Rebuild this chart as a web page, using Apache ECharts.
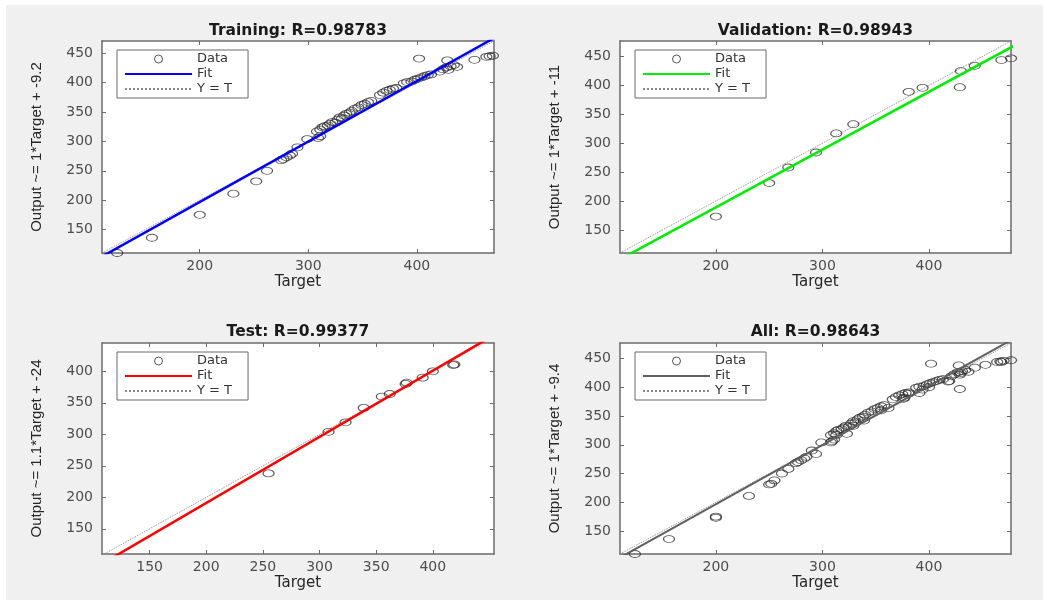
<!DOCTYPE html>
<html>
<head>
<meta charset="utf-8">
<script src="https://cdn.jsdelivr.net/npm/echarts@6/dist/echarts.min.js"></script>
<style>
html,body{margin:0;padding:0;background:#fff;}
#chart{width:1043px;height:600px;}
</style>
</head>
<body>
<div id="chart"></div>
<script>
// ---------------- data (target, output) ----------------
const trainingPoints = [
  [124,110],[156,136],[200,175],[231,211],[252,232],[262,250],
  [275,268],[277,270],[280,273],[283,276],[285,279],
  [290,290],[299,304],[309,306],[311,309],
  [308,317],[311,320],[313,324],[315,326],[318,327],[320,330],[322,333],[325,332],
  [327,337],[329,341],[331,339],[333,344],[335,347],[338,349],[340,352],[343,356],
  [346,358],[349,362],[352,364],[355,367],[358,369],
  [366,379],[369,383],[372,386],[375,388],[378,390],[381,391],
  [388,399],[391,401],[395,402],[398,405],[401,407],[404,409],[407,411],[410,413],[413,414],
  [421,419],[424,423],[427,426],[429,422],[431,428],[434,430],[437,427],[428,438],
  [402,441],[453,439],[464,444],[467,445],[470,446]
];
const validationPoints = [
  [200,173],[250,231],[268,258],[294,284],[313,317],[329,333],
  [381,389],[394,396],[429,397],[430,425],[443,434],[468,444],[477,447]
];
const testPoints = [
  [255,238],[308,304],[323,319],[339,342],[355,360],[362,364],
  [376,380],[377,382],[391,390],[400,400],[418,410],[419,411]
];
const allPoints = trainingPoints.concat(validationPoints, testPoints);

const panelPoints = [trainingPoints, validationPoints, testPoints, allPoints];
const panelTitles = ['Training: R=0.98783', 'Validation: R=0.98943', 'Test: R=0.99377', 'All: R=0.98643'];
const yAxisNames = ['Output ~= 1*Target + -9.2', 'Output ~= 1*Target + -11', 'Output ~= 1.1*Target + -24', 'Output ~= 1*Target + -9.4'];
const xAxisName = 'Target';
const fitSlopes = [1.03, 1.0, 1.05, 1.03];
const fitIntercepts = [-9.2, -11, -19, -9.4];
const xLimits = [[110, 471], [110, 477], [108, 454], [110, 477]];
const yLimits = [[110, 471], [110, 477], [110, 445], [110, 477]];
const xTickValues = [[200, 300, 400], [200, 300, 400], [150, 200, 250, 300, 350, 400], [200, 300, 400]];
const yTickValues = [[150, 200, 250, 300, 350, 400, 450], [150, 200, 250, 300, 350, 400, 450],
                     [150, 200, 250, 300, 350, 400], [150, 200, 250, 300, 350, 400, 450]];

// ---------------- layout & style ----------------
const grids = [
  {left: 102, top: 41, width: 392, height: 212},
  {left: 620, top: 41, width: 391, height: 212},
  {left: 102, top: 343, width: 392, height: 211},
  {left: 620, top: 343, width: 391, height: 211}
];
const fitColors = ['#0000ff', '#00ee00', '#ff0000', '#5f5f5f'];
const fitWidths = [2.5, 2.5, 2.5, 2];
const titleTops = [23, 23, 324, 324];
const legendPos = [[117, 50], [635, 50], [117, 352], [635, 352]];
const axisColor = '#6b6b6b';
const labelFont = 'DejaVu Sans';

const chart = echarts.init(document.getElementById('chart'), null, {renderer: 'canvas'});

const option = {
  animation: false,
  backgroundColor: '#ffffff',
  graphic: {elements: [{type: 'rect', z: -100, shape: {x: 6, y: 5, width: 1037, height: 595}, style: {fill: '#f0f0f0'}}]},
  title: [], grid: [], xAxis: [], yAxis: [], legend: [], series: []
};

for (let i = 0; i < 4; i++) {
  const g = grids[i];
  option.grid.push({left: g.left, top: g.top, width: g.width, height: g.height,
    show: true, backgroundColor: '#ffffff', borderWidth: 0, containLabel: false});
  option.title.push({
    text: panelTitles[i], left: g.left + g.width / 2, top: titleTops[i], textAlign: 'center', padding: 0,
    textStyle: {fontFamily: labelFont, fontWeight: 'bold', fontSize: 15.5, color: '#1a1a1a'}
  });
  const lineStyle = {color: axisColor, width: 1.5};
  const tickStyle = {color: axisColor, width: 1};
  option.xAxis.push({
    type: 'value', gridIndex: i, position: 'bottom', min: xLimits[i][0], max: xLimits[i][1],
    name: xAxisName, nameLocation: 'middle', nameGap: 22,
    nameTextStyle: {fontFamily: labelFont, fontSize: 15, color: '#262626'},
    axisLine: {show: true, onZero: false, lineStyle: lineStyle},
    axisTick: {show: true, inside: true, length: 4, customValues: xTickValues[i], lineStyle: tickStyle},
    axisLabel: {show: true, customValues: xTickValues[i], margin: 6, fontFamily: labelFont, fontSize: 14, color: '#4d4d4d'},
    splitLine: {show: false}
  });
  option.xAxis.push({
    type: 'value', gridIndex: i, position: 'top', min: xLimits[i][0], max: xLimits[i][1],
    axisLine: {show: true, onZero: false, lineStyle: lineStyle},
    axisTick: {show: true, inside: true, length: 4, customValues: xTickValues[i], lineStyle: tickStyle},
    axisLabel: {show: false}, splitLine: {show: false}
  });
  option.yAxis.push({
    type: 'value', gridIndex: i, position: 'left', min: yLimits[i][0], max: yLimits[i][1],
    name: yAxisNames[i], nameLocation: 'middle', nameGap: 58,
    nameTextStyle: {fontFamily: 'Liberation Sans', fontSize: 15, color: '#262626'},
    axisLine: {show: true, onZero: false, lineStyle: lineStyle},
    axisTick: {show: true, inside: true, length: 4, customValues: yTickValues[i], lineStyle: tickStyle},
    axisLabel: {show: true, customValues: yTickValues[i], margin: 9, fontFamily: labelFont, fontSize: 14, color: '#4d4d4d'},
    splitLine: {show: false}
  });
  option.yAxis.push({
    type: 'value', gridIndex: i, position: 'right', min: yLimits[i][0], max: yLimits[i][1],
    axisLine: {show: true, onZero: false, lineStyle: lineStyle},
    axisTick: {show: true, inside: true, length: 4, customValues: yTickValues[i], lineStyle: tickStyle},
    axisLabel: {show: false}, splitLine: {show: false}
  });

  const lo = xLimits[i][0], hi = xLimits[i][1];
  const yLo = yLimits[i][0], yHi = yLimits[i][1];
  const diagLo = Math.min(lo, yLo), diagHi = Math.max(hi, yHi);
  const s = fitSlopes[i], b = fitIntercepts[i];

  option.series.push({
    name: 'Y = T#' + i, type: 'line', xAxisIndex: 2 * i, yAxisIndex: 2 * i,
    data: [[diagLo, diagLo], [diagHi, diagHi]], symbol: 'none', clip: true, z: 2,
    itemStyle: {color: '#8a8a8a', opacity: 0},
    lineStyle: {color: '#8a8a8a', width: 1, type: 'dotted'}, silent: true
  });
  option.series.push({
    name: 'Data#' + i, type: 'scatter', xAxisIndex: 2 * i, yAxisIndex: 2 * i,
    data: panelPoints[i], symbol: 'path://M0,5a5,5 0 1,0 10,0a5,5 0 1,0 -10,0z', symbolSize: [11, 7],
    itemStyle: {color: 'transparent', borderColor: '#2e2e2e', borderWidth: 1}, z: 3, silent: true, clip: true
  });
  option.series.push({
    name: 'Fit#' + i, type: 'line', xAxisIndex: 2 * i, yAxisIndex: 2 * i,
    data: [[lo - 20, s * (lo - 20) + b], [hi + 20, s * (hi + 20) + b]], symbol: 'none', clip: true, z: 4,
    itemStyle: {color: fitColors[i], opacity: 0},
    lineStyle: {color: fitColors[i], width: fitWidths[i]}, silent: true
  });

  option.legend.push({
    orient: 'vertical', left: legendPos[i][0], top: legendPos[i][1],
    data: [
      {name: 'Data#' + i, icon: 'circle', itemStyle: {color: 'transparent', borderColor: '#2e2e2e', borderWidth: 1}},
      {name: 'Fit#' + i, itemStyle: {opacity: 0}},
      {name: 'Y = T#' + i, itemStyle: {opacity: 0}}
    ],
    formatter: function (name) { return name.split('#')[0]; },
    selectedMode: false, itemWidth: 67, itemHeight: 8, itemGap: 1,
    padding: [2, 16, 2, 7], backgroundColor: '#ffffff', borderColor: axisColor, borderWidth: 1,
    textStyle: {fontFamily: labelFont, fontSize: 13, lineHeight: 14, color: '#333333'}
  });
}

chart.setOption(option);
</script>
</body>
</html>
